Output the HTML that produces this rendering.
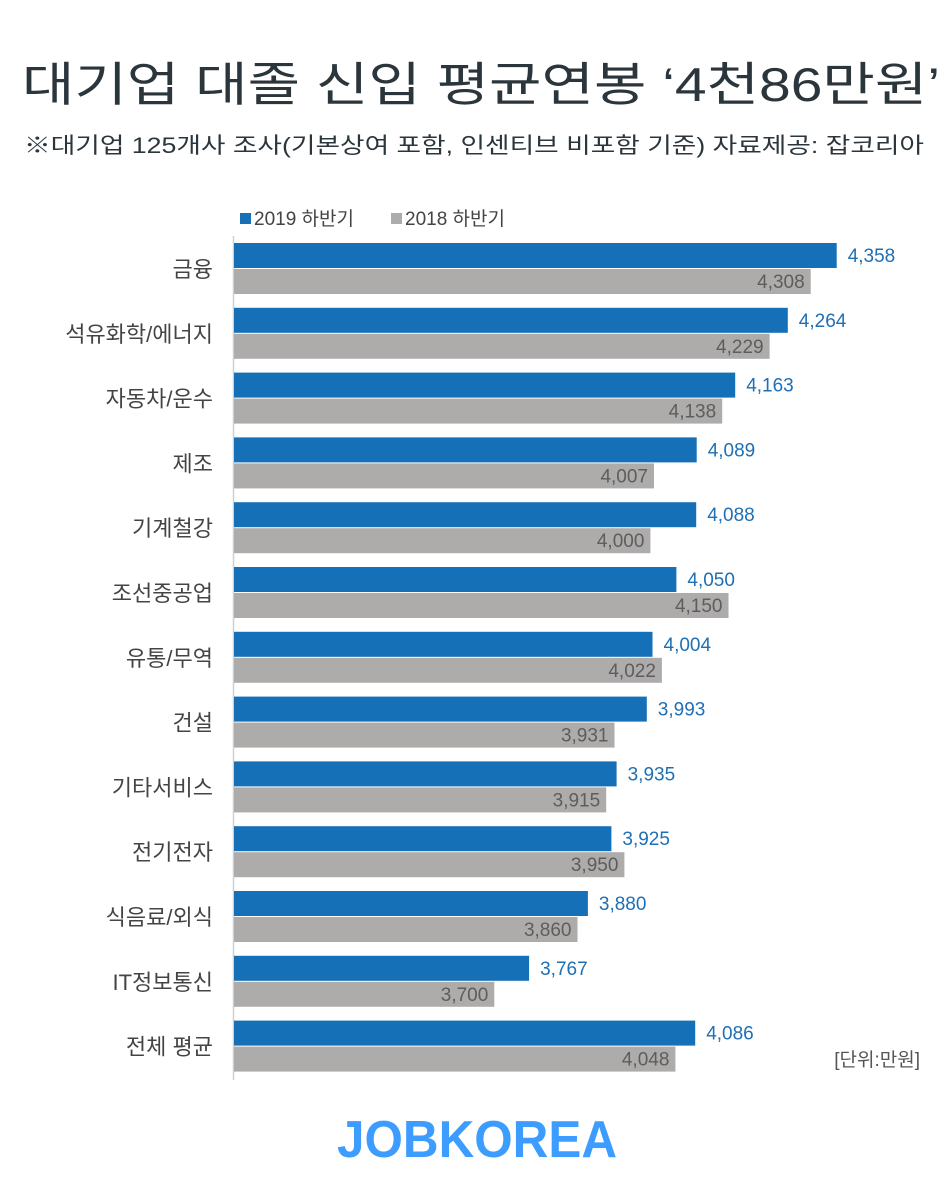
<!DOCTYPE html>
<html><head><meta charset="utf-8"><style>
html,body{margin:0;padding:0;background:#fff;}
svg{display:block;font-family:"Liberation Sans","Noto Sans CJK KR",sans-serif;}
.c{font-size:22px;fill:#444;text-anchor:end}
.b{font-size:19px;fill:#1f6fb5}
.g{font-size:19px;fill:#5d5d5d;text-anchor:end}
</style></head><body>
<svg width="950" height="1200" viewBox="0 0 950 1200" xmlns="http://www.w3.org/2000/svg">
<text x="22" y="101" font-size="47" fill="#2b363c" textLength="918" lengthAdjust="spacingAndGlyphs">대기업 대졸 신입 평균연봉 ‘4천86만원’</text>
<text x="24" y="153" font-size="22" fill="#2b363c" textLength="900" lengthAdjust="spacingAndGlyphs">※대기업 125개사 조사(기본상여 포함, 인센티브 비포함 기준) 자료제공: 잡코리아</text>
<rect x="240" y="213" width="11" height="11" fill="#1570b8"/>
<text x="254" y="225" font-size="19" fill="#444">2019 하반기</text>
<rect x="391" y="213" width="11" height="11" fill="#aeabab"/>
<text x="405" y="225" font-size="19" fill="#444">2018 하반기</text>
<line x1="233.5" y1="236" x2="233.5" y2="1080" stroke="#d0d0d0" stroke-width="1.5"/>

<g fill="#1570b8">
<rect x="234" y="243" width="602.7" height="25"/>
<rect x="234" y="307.8" width="553.8" height="25"/>
<rect x="234" y="372.6" width="501.2" height="25"/>
<rect x="234" y="437.4" width="462.7" height="25"/>
<rect x="234" y="502.2" width="462.2" height="25"/>
<rect x="234" y="567" width="442.4" height="25"/>
<rect x="234" y="631.8" width="418.5" height="25"/>
<rect x="234" y="696.6" width="412.8" height="25"/>
<rect x="234" y="761.4" width="382.6" height="25"/>
<rect x="234" y="826.2" width="377.4" height="25"/>
<rect x="234" y="891" width="353.9" height="25"/>
<rect x="234" y="955.8" width="295.1" height="25"/>
<rect x="234" y="1020.6" width="461.2" height="25"/>
</g>
<g fill="#aeabab">
<rect x="234" y="269" width="576.7" height="25"/>
<rect x="234" y="333.8" width="535.6" height="25"/>
<rect x="234" y="398.6" width="488.2" height="25"/>
<rect x="234" y="463.4" width="420" height="25"/>
<rect x="234" y="528.2" width="416.4" height="25"/>
<rect x="234" y="593" width="494.5" height="25"/>
<rect x="234" y="657.8" width="427.9" height="25"/>
<rect x="234" y="722.6" width="380.5" height="25"/>
<rect x="234" y="787.4" width="372.2" height="25"/>
<rect x="234" y="852.2" width="390.4" height="25"/>
<rect x="234" y="917" width="343.5" height="25"/>
<rect x="234" y="981.8" width="260.3" height="25"/>
<rect x="234" y="1046.6" width="441.4" height="25"/>
</g>

<text class="c" x="213" y="277">금융</text>
<text class="c" x="213" y="341.8">석유화학/에너지</text>
<text class="c" x="213" y="406.6">자동차/운수</text>
<text class="c" x="213" y="471.4">제조</text>
<text class="c" x="213" y="536.2">기계철강</text>
<text class="c" x="213" y="601">조선중공업</text>
<text class="c" x="213" y="665.8">유통/무역</text>
<text class="c" x="213" y="730.6">건설</text>
<text class="c" x="213" y="795.4">기타서비스</text>
<text class="c" x="213" y="860.2">전기전자</text>
<text class="c" x="213" y="925">식음료/외식</text>
<text class="c" x="213" y="989.8">IT정보통신</text>
<text class="c" x="213" y="1054.6">전체 평균</text>

<text class="b" x="847.7" y="262">4,358</text>
<text class="b" x="798.8" y="326.8">4,264</text>
<text class="b" x="746.2" y="391.6">4,163</text>
<text class="b" x="707.7" y="456.4">4,089</text>
<text class="b" x="707.2" y="521.2">4,088</text>
<text class="b" x="687.4" y="586">4,050</text>
<text class="b" x="663.5" y="650.8">4,004</text>
<text class="b" x="657.8" y="715.6">3,993</text>
<text class="b" x="627.6" y="780.4">3,935</text>
<text class="b" x="622.4" y="845.2">3,925</text>
<text class="b" x="598.9" y="910">3,880</text>
<text class="b" x="540.1" y="974.8">3,767</text>
<text class="b" x="706.2" y="1039.6">4,086</text>

<text class="g" x="804.7" y="288">4,308</text>
<text class="g" x="763.6" y="352.8">4,229</text>
<text class="g" x="716.2" y="417.6">4,138</text>
<text class="g" x="648" y="482.4">4,007</text>
<text class="g" x="644.4" y="547.2">4,000</text>
<text class="g" x="722.5" y="612">4,150</text>
<text class="g" x="655.9" y="676.8">4,022</text>
<text class="g" x="608.5" y="741.6">3,931</text>
<text class="g" x="600.2" y="806.4">3,915</text>
<text class="g" x="618.4" y="871.2">3,950</text>
<text class="g" x="571.5" y="936">3,860</text>
<text class="g" x="488.3" y="1000.8">3,700</text>
<text class="g" x="669.4" y="1065.6">4,048</text>

<text x="920" y="1066" font-size="19" fill="#555" text-anchor="end">[단위:만원]</text>
<text x="337" y="1157" font-size="52" font-weight="bold" fill="#3d9cff" textLength="280" lengthAdjust="spacingAndGlyphs">JOBKOREA</text>
</svg>
</body></html>
